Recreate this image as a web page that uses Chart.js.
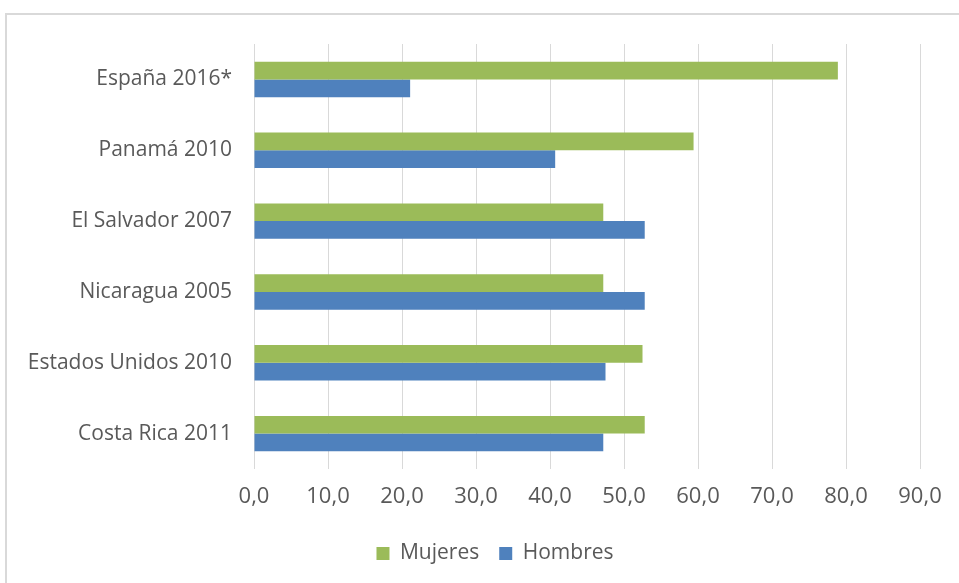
<!DOCTYPE html>
<html>
<head>
<meta charset="utf-8">
<script src="https://cdn.jsdelivr.net/npm/chart.js@4"></script>
<style>
    html, body { margin: 0; padding: 0; background: #fff; }
    #wrap { position: relative; width: 959px; height: 583px; }
    #frame {
        position: absolute; left: 5px; top: 13px; width: 980px; height: 600px;
        border-top: 2px solid #d9d9d9; border-left: 2px solid #d9d9d9;
        pointer-events: none;
    }
</style>
</head>
<body>
<div id="wrap">
    <canvas id="chart" width="959" height="583"></canvas>
    <div id="frame"></div>
</div>
<script>
// Values (percent)
const categories = ['España 2016*', 'Panamá 2010', 'El Salvador 2007', 'Nicaragua 2005', 'Estados Unidos 2010', 'Costa Rica 2011'];
const mujeres = [78.9, 59.4, 47.2, 47.2, 52.5, 52.8];
const hombres = [21.1, 40.7, 52.8, 52.8, 47.5, 47.2];
const xTicks = [0, 10, 20, 30, 40, 50, 60, 70, 80, 90];

const fontFamily = '"Open Sans", sans-serif';
const textColor = '#595959';

// the legend in the original sits a bit right of the canvas centre
const legendShift = {
    id: 'legendShift',
    afterLayout(chart) {
        chart.legend.left += 35;
        chart.legend.right += 35;
    }
};

const ctx = document.getElementById('chart').getContext('2d');

new Chart(ctx, {
    type: 'bar',
    data: {
        labels: categories,
        datasets: [{
            label: 'Mujeres',
            data: mujeres,
            backgroundColor: '#9BBB59',
            borderWidth: 0
        }, {
            label: 'Hombres',
            data: hombres,
            backgroundColor: '#4F81BD',
            borderWidth: 0
        }]
    },
    plugins: [legendShift],
    options: {
        responsive: false,
        animation: false,
        indexAxis: 'y', // horizontal bars
        categoryPercentage: 0.5,
        barPercentage: 1.0,
        layout: {
            padding: { top: 44, right: 39, bottom: 9, left: 0 }
        },
        scales: {
            x: {
                min: 0,
                max: 90,
                afterBuildTicks: (axis) => {
                    axis.ticks = xTicks.map(v => ({ value: v }));
                },
                afterFit: (axis) => { axis.height = 54; },
                grid: { color: '#d9d9d9', drawTicks: false },
                border: { display: false },
                ticks: {
                    padding: 15,
                    color: textColor,
                    font: { family: fontFamily, size: 22 },
                    callback: (v) => v.toFixed(1).replace('.', ',')
                }
            },
            y: {
                afterFit: (axis) => { axis.width = 254; },
                grid: { display: false, drawTicks: false },
                border: { display: false },
                ticks: {
                    padding: 22,
                    color: textColor,
                    font: { family: fontFamily, size: 21 }
                }
            }
        },
        plugins: {
            legend: {
                position: 'bottom',
                labels: {
                    boxWidth: 13,
                    boxHeight: 13,
                    padding: 20,
                    color: textColor,
                    font: { family: fontFamily, size: 21 }
                }
            },
            title: { display: false },
            tooltip: { enabled: false }
        }
    }
});
</script>
</body>
</html>
